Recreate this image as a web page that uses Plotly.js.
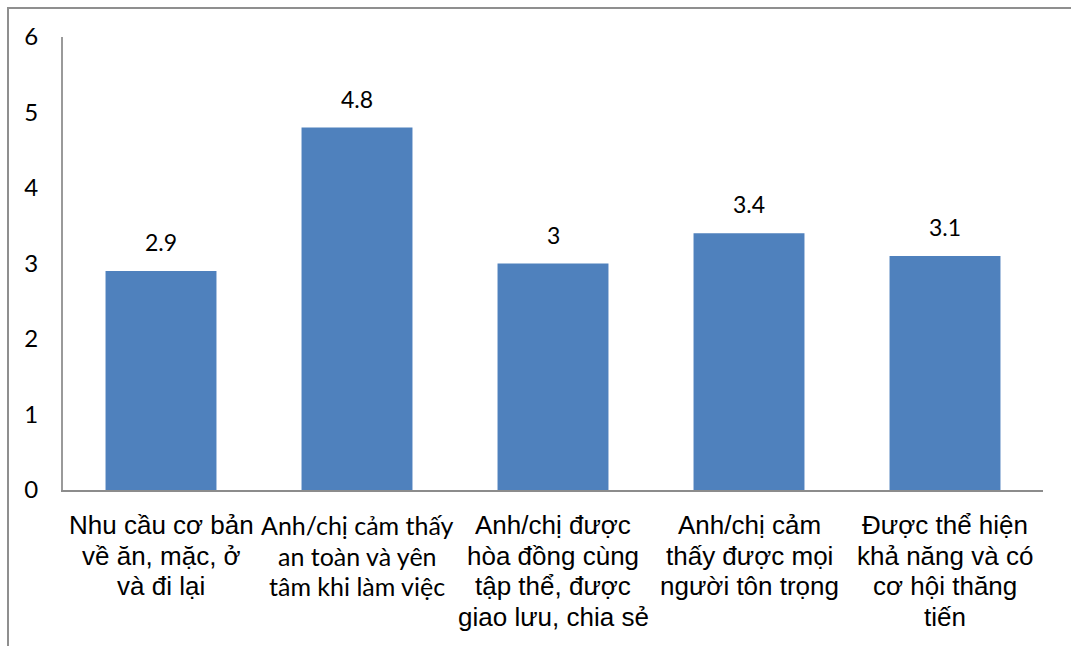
<!DOCTYPE html>
<html>
<head>
<meta charset="utf-8">
<script src="https://cdn.plot.ly/plotly-3.0.1.min.js"></script>
<style>
  html, body { margin: 0; padding: 0; background: #ffffff; }
  #chart { width: 1071px; height: 646px; }
</style>
</head>
<body>
<div id="chart"></div>
<script>
// Category keys and their displayed (multi-line) labels
const categories = ["c1", "c2", "c3", "c4", "c5"];
const categoryLabels = [
  ["Nhu cầu cơ bản", "về ăn, mặc, ở", "và đi lại"],
  ["Anh/chị cảm thấy", "an toàn và yên", "tâm khi làm việc"],
  ["Anh/chị được", "hòa đồng cùng", "tập thể, được", "giao lưu, chia sẻ"],
  ["Anh/chị cảm", "thấy được mọi", "người tôn trọng"],
  ["Được thể hiện", "khả năng và có", "cơ hội thăng", "tiến"]
];
// Mean scores per category
const values = [2.9, 4.8, 3, 3.4, 3.1];
const yTicks = [0, 1, 2, 3, 4, 5, 6];

// Fonts for the category labels (the second one uses a narrower humanist face)
const arialFont = { family: 'Liberation Sans, Arial, sans-serif', size: 26, color: '#000000' };
const humanistFont = { family: 'Lato, sans-serif', size: 25, color: '#000000' };
const labelFonts = [arialFont, humanistFont, arialFont, arialFont, arialFont];

const trace = {
  type: 'bar',
  x: categories,
  y: values,
  marker: { color: '#4F81BD' },
  hoverinfo: 'none'
};

// Value labels above each bar
const valueAnnotations = categories.map((c, i) => ({
  x: c, y: values[i], xref: 'x', yref: 'y',
  text: String(values[i]),
  showarrow: false,
  yanchor: 'middle',
  yshift: 29,
  font: { family: 'Lato, sans-serif', size: 23, color: '#000000' }
}));

// Category labels below the axis, one text line per annotation for tight leading
const firstLineOffset = 35;
const lineStep = 30.7;
const labelAnnotations = [];
categories.forEach((c, i) => {
  categoryLabels[i].forEach((line, k) => {
    labelAnnotations.push({
      x: c, y: 0, xref: 'x', yref: 'y',
      text: line,
      showarrow: false,
      yanchor: 'middle',
      yshift: -(firstLineOffset + k * lineStep),
      font: labelFonts[i]
    });
  });
});

// Plot area spans 63..1043 x 37..490 px
const L = 63, R = 1043, T = 37, B = 490;
const W = R - L, H = B - T;
const px = v => (v - L) / W;
const py = v => (B - v) / H;

const layout = {
  width: 1071,
  height: 646,
  margin: { l: L, r: 1071 - R, t: T, b: 646 - B, pad: 0 },
  paper_bgcolor: '#ffffff',
  plot_bgcolor: '#ffffff',
  showlegend: false,
  bargap: 0.434,
  font: { family: 'Liberation Sans, Arial, sans-serif', color: '#000000' },
  xaxis: {
    type: 'category',
    tickvals: categories,
    showticklabels: false,
    ticks: '',
    showline: true,
    linecolor: '#8c8c8c',
    linewidth: 2,
    showgrid: false,
    zeroline: false,
    fixedrange: true
  },
  yaxis: {
    range: [0, 6],
    tickvals: yTicks,
    ticktext: yTicks.map(String),
    tickfont: { family: 'Lato, sans-serif', size: 24, color: '#000000' },
    ticks: '',
    ticklabelstandoff: 18,
    showline: true,
    linecolor: '#9a9a9a',
    linewidth: 2,
    showgrid: false,
    zeroline: false,
    fixedrange: true
  },
  annotations: valueAnnotations.concat(labelAnnotations),
  // Outer frame around the whole chart
  shapes: [{
    type: 'rect', xref: 'paper', yref: 'paper',
    x0: px(8), x1: px(1080), y0: py(660), y1: py(8),
    line: { color: '#8f8f8f', width: 2 },
    fillcolor: 'rgba(0,0,0,0)',
    layer: 'below'
  }]
};

Plotly.newPlot('chart', [trace], layout, { displayModeBar: false, staticPlot: true });
</script>
</body>
</html>
